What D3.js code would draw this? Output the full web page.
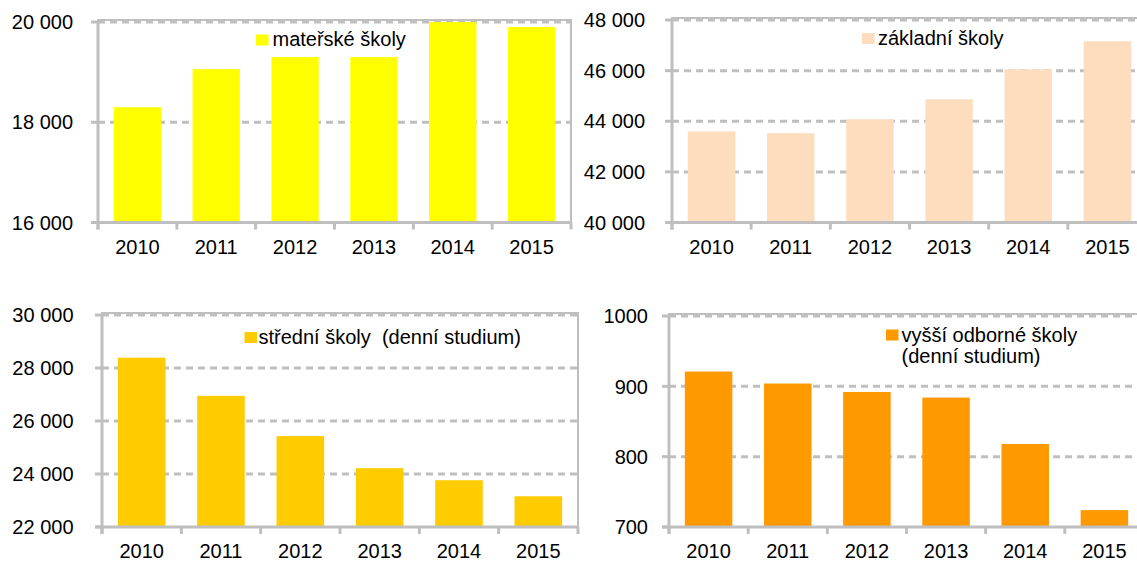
<!DOCTYPE html>
<html>
<head>
<meta charset="utf-8">
<script src="https://cdn.jsdelivr.net/npm/d3@7"></script>
<style>
  html, body { margin: 0; padding: 0; background: #fff; }
  svg { display: block; }
  text { font-family: "Liberation Sans", Arial, sans-serif; fill: #000; }
</style>
</head>
<body>
<svg id="chart" width="1137" height="561"></svg>
<script>
// ---- data ----
const years = ["2010", "2011", "2012", "2013", "2014", "2015"];
const materske = [18300, 19060, 19300, 19300, 20000, 19900];
const zakladni = [43600, 43530, 44080, 44870, 46050, 47160];
const stredni = [28390, 26950, 25430, 24220, 23765, 23160];
const vyssi = [921, 904, 892, 884, 818, 724];

const ticksMaterske = [16000, 18000, 20000];
const ticksZakladni = [40000, 42000, 44000, 46000, 48000];
const ticksStredni = [22000, 24000, 26000, 28000, 30000];
const ticksVyssi = [700, 800, 900, 1000];

const legendMaterske = ["mateřské školy"];
const legendZakladni = ["základní školy"];
const legendStredni = ["střední školy  (denní studium)"];
const legendVyssi = ["vyšší odborné školy", "(denní studium)"];

// ---- layout ----
const grey = "#BFBFBF";
const fontSize = 20;
const fmtSpace = d3.formatLocale({ decimal: ",", thousands: "\u00a0", grouping: [3], currency: ["", ""] }).format(",d");
const fmt = v => (v >= 10000 ? fmtSpace(v) : String(v));

const panels = [
  { values: materske, ticks: ticksMaterske, legend: legendMaterske, color: "#FFFF00",
    x0: 98, x1: 571, yTop: 22, yBot: 222.5, labelX: 73, clipRight: 571,
    leg: { sx: 256, sy: 34.5, tx: 272.5, ty: 46 } },
  { values: zakladni, ticks: ticksZakladni, legend: legendZakladni, color: "#FDDDBE",
    x0: 672, x1: 1147, yTop: 20, yBot: 222.5, labelX: 645, clipRight: 1147,
    leg: { sx: 862, sy: 33, tx: 878, ty: 45 } },
  { values: stredni, ticks: ticksStredni, legend: legendStredni, color: "#FFCC00",
    x0: 102, x1: 578, yTop: 315, yBot: 527, labelX: 73.5, clipRight: 578,
    leg: { sx: 244.5, sy: 332, tx: 258.5, ty: 343.5 } },
  { values: vyssi, ticks: ticksVyssi, legend: legendVyssi, color: "#FF9900",
    x0: 669, x1: 1144, yTop: 316, yBot: 527, labelX: 648, clipRight: 1144,
    leg: { sx: 886, sy: 329.5, tx: 901.5, ty: 341.5, lh: 21.5 } }
];

const svg = d3.select("#chart");

panels.forEach(p => {
  const g = svg.append("g");
  const x = d3.scaleBand().domain(years).range([p.x0, p.x1]).paddingInner(0.4).paddingOuter(0.2);
  const y = d3.scaleLinear().domain(d3.extent(p.ticks)).range([p.yBot, p.yTop]);
  const step = x.step();

  // plot border (top/right)
  g.append("rect")
    .attr("x", p.x0).attr("y", y(d3.max(p.ticks)) - 2)
    .attr("width", p.x1 - p.x0).attr("height", p.yBot - y(d3.max(p.ticks)) + 2)
    .attr("fill", "none").attr("stroke", grey).attr("stroke-width", 2);

  // dashed gridlines
  g.selectAll("line.grid").data(p.ticks.slice(1)).enter().append("line")
    .attr("x1", p.x0).attr("x2", p.x1)
    .attr("y1", d => y(d)).attr("y2", d => y(d))
    .attr("stroke", grey).attr("stroke-width", 3).attr("stroke-dasharray", "7,5");

  // bars
  g.selectAll("rect.bar").data(p.values).enter().append("rect")
    .attr("x", (d, i) => x(years[i]))
    .attr("width", x.bandwidth())
    .attr("y", d => y(Math.min(d, d3.max(p.ticks))))
    .attr("height", d => p.yBot - y(Math.min(d, d3.max(p.ticks))))
    .attr("fill", p.color);

  // y axis line
  g.append("line").attr("x1", p.x0).attr("x2", p.x0)
    .attr("y1", y(d3.max(p.ticks)) - 1).attr("y2", p.yBot + 7)
    .attr("stroke", grey).attr("stroke-width", 3);
  // y ticks
  g.selectAll("line.yt").data(p.ticks).enter().append("line")
    .attr("x1", p.x0 - 7).attr("x2", p.x0)
    .attr("y1", d => y(d)).attr("y2", d => y(d))
    .attr("stroke", grey).attr("stroke-width", 3);
  // x axis line
  g.append("line").attr("x1", p.x0 - 7).attr("x2", p.x1)
    .attr("y1", p.yBot).attr("y2", p.yBot)
    .attr("stroke", grey).attr("stroke-width", 3);
  // x ticks between categories
  const xt = years.map(c => x(c) - step * x.paddingInner() / 2).concat([p.x1]);
  g.selectAll("line.xt").data(xt).enter().append("line")
    .attr("x1", d => d).attr("x2", d => d)
    .attr("y1", p.yBot).attr("y2", p.yBot + 7)
    .attr("stroke", grey).attr("stroke-width", 3);

  // y labels
  g.selectAll("text.yl").data(p.ticks).enter().append("text")
    .attr("x", p.labelX).attr("y", d => y(d))
    .attr("dy", "0.36em").attr("text-anchor", "end")
    .style("font-size", fontSize + "px")
    .text(d => fmt(d));

  // x labels
  g.selectAll("text.xl").data(years).enter().append("text")
    .attr("x", d => x(d) + x.bandwidth() / 2).attr("y", p.yBot + 24)
    .attr("dy", "0.36em").attr("text-anchor", "middle")
    .style("font-size", fontSize + "px")
    .text(d => d);

  // legend
  g.append("rect").attr("x", p.leg.sx).attr("y", p.leg.sy)
    .attr("width", 12.5).attr("height", 11).attr("fill", p.color);
  p.legend.forEach((t, i) => {
    g.append("text").attr("x", p.leg.tx).attr("y", p.leg.ty + i * (p.leg.lh || 0))
      .attr("xml:space", "preserve").style("white-space", "pre")
      .style("font-size", fontSize + "px").text(t);
  });
});
</script>
</body>
</html>
